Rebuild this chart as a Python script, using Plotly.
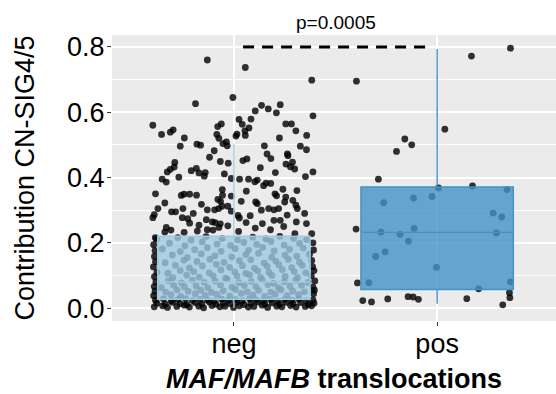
import plotly.graph_objects as go

# ---------------- data ----------------
categories = ["neg", "pos"]
cat_pos = [1, 2]

# box statistics per group: lower whisker, Q1, median, Q3, upper whisker
box_lower = [0.001, 0.013]
box_q1 = [0.027, 0.057]
box_median = [0.080, 0.232]
box_q3 = [0.220, 0.371]
box_upper = [0.504, 0.794]

# jittered observations, "neg" group (contribution values and horizontal jitter)
neg_contrib = [
    0.760, 0.737, 0.698, 0.645, 0.626, 0.589, 0.621, 0.604, 0.610, 0.598,
    0.623, 0.560, 0.532, 0.539, 0.546, 0.521, 0.496, 0.556, 0.564, 0.532,
    0.520, 0.504, 0.509, 0.497, 0.482, 0.462, 0.449, 0.444, 0.578, 0.563,
    0.579, 0.543, 0.552, 0.533, 0.527, 0.529, 0.564, 0.564, 0.543, 0.529,
    0.521, 0.496, 0.485, 0.497, 0.472, 0.472, 0.467, 0.458, 0.457, 0.452,
    0.441, 0.447, 0.433, 0.426, 0.430, 0.415, 0.403, 0.417, 0.446, 0.432,
    0.425, 0.417, 0.401, 0.395, 0.421, 0.428, 0.414, 0.415, 0.404, 0.411,
    0.397, 0.395, 0.395, 0.502, 0.499, 0.386, 0.350, 0.345, 0.349, 0.349,
    0.346, 0.363, 0.346, 0.387, 0.392, 0.375, 0.383, 0.382, 0.350, 0.344,
    0.364, 0.340, 0.343, 0.358, 0.360, 0.305, 0.286, 0.277, 0.295, 0.295,
    0.305, 0.277, 0.274, 0.260, 0.247, 0.233, 0.239, 0.254, 0.301, 0.301,
    0.305, 0.271, 0.264, 0.262, 0.247, 0.258, 0.240, 0.239, 0.327, 0.333,
    0.216, 0.312, 0.312, 0.297, 0.327, 0.284, 0.276, 0.325, 0.320, 0.300,
    0.305, 0.301, 0.305, 0.325, 0.315, 0.305, 0.269, 0.269, 0.245, 0.259,
    0.264, 0.290, 0.252, 0.235, 0.259, 0.228, 0.290, 0.318, 0.283, 0.262,
    0.330, 0.285, 0.240, 0.232, 0.228, 0.322, 0.250, 0.236,
    # dense part
    0.004, 0.007, 0.002, 0.005, 0.009, 0.003, 0.006, 0.001, 0.008, 0.004,
    0.006, 0.002, 0.007, 0.003, 0.005, 0.009, 0.002, 0.006, 0.004, 0.008,
    0.003, 0.005, 0.007,
    0.015, 0.012, 0.018, 0.014, 0.011, 0.017, 0.013, 0.019, 0.012, 0.016,
    0.014, 0.018, 0.011, 0.015, 0.019, 0.013, 0.016, 0.012, 0.018, 0.014,
    0.017, 0.011, 0.015,
    0.024, 0.028, 0.022, 0.026, 0.029, 0.023, 0.027, 0.025, 0.021, 0.028,
    0.024, 0.026, 0.022, 0.029, 0.025, 0.023, 0.027, 0.021, 0.026, 0.024,
    0.028, 0.022, 0.025,
    0.038, 0.041, 0.036, 0.044, 0.039, 0.042, 0.037, 0.045, 0.040, 0.036,
    0.043, 0.038, 0.041, 0.044,
    0.052, 0.049, 0.056, 0.051, 0.055, 0.048, 0.053, 0.057, 0.050, 0.054,
    0.049, 0.056, 0.052, 0.050, 0.055,
    0.066, 0.063, 0.070, 0.065, 0.068, 0.062, 0.071, 0.064, 0.069, 0.066,
    0.072, 0.063, 0.067, 0.070, 0.064,
    0.080, 0.084, 0.077, 0.086, 0.079, 0.083, 0.088, 0.078, 0.082, 0.087,
    0.076, 0.081, 0.085, 0.079, 0.083,
    0.096, 0.093, 0.101, 0.095, 0.099, 0.092, 0.098, 0.102, 0.094, 0.100,
    0.097, 0.093, 0.099,
    0.110, 0.107, 0.115, 0.112, 0.108, 0.117, 0.111, 0.106, 0.114, 0.109,
    0.118, 0.112, 0.108, 0.115,
    0.126, 0.131, 0.123, 0.129, 0.134, 0.125, 0.130, 0.122, 0.128, 0.133,
    0.124, 0.131, 0.127,
    0.142, 0.139, 0.147, 0.143, 0.150, 0.140, 0.145, 0.148, 0.138, 0.144,
    0.149, 0.141, 0.146,
    0.158, 0.163, 0.155, 0.166, 0.160, 0.157, 0.164, 0.168, 0.156, 0.162,
    0.159, 0.165,
    0.176, 0.181, 0.173, 0.179, 0.185, 0.174, 0.182, 0.177, 0.186, 0.175,
    0.180, 0.184, 0.178,
    0.194, 0.199, 0.191, 0.203, 0.196, 0.192, 0.201, 0.195, 0.204, 0.193,
    0.198, 0.200,
    0.211, 0.216, 0.208, 0.219, 0.213, 0.209, 0.217, 0.212, 0.220, 0.214,
    0.210,
]
neg_jitter = [
    -0.131, 0.056, 0.383, -0.005, -0.189, 0.389, 0.136, 0.105, 0.169, 0.209,
    0.228, -0.399, -0.356, -0.313, -0.299, -0.244, -0.264, -0.080, -0.062, -0.084,
    -0.074, -0.054, -0.037, -0.033, -0.097, -0.120, -0.067, -0.028, 0.025, 0.041,
    0.084, 0.054, 0.074, 0.015, 0.010, 0.056, 0.255, 0.283, 0.305, 0.358,
    0.224, 0.327, 0.357, 0.150, 0.163, 0.263, 0.266, 0.182, 0.064, 0.044,
    0.256, 0.288, 0.278, 0.299, 0.130, 0.204, 0.352, 0.389, -0.291, -0.294,
    -0.313, -0.328, -0.271, -0.353, -0.210, -0.185, -0.172, -0.141, -0.146, -0.047,
    -0.013, 0.028, 0.072, -0.182, -0.164, -0.333, -0.386, -0.259, -0.246, -0.218,
    -0.184, -0.057, -0.056, 0.103, 0.115, 0.146, 0.158, 0.181, 0.202, 0.210,
    0.241, 0.255, -0.013, 0.061, 0.310, -0.374, -0.392, -0.399, -0.307, -0.287,
    -0.251, -0.254, -0.227, -0.218, -0.333, -0.340, -0.310, -0.172, -0.131, -0.095,
    -0.075, -0.136, -0.106, -0.092, -0.074, -0.067, -0.131, -0.103, -0.066, -0.079,
    -0.387, -0.059, -0.030, -0.013, 0.036, 0.020, 0.027, 0.107, 0.115, 0.135,
    0.171, 0.197, 0.220, 0.250, 0.305, 0.312, 0.197, 0.228, 0.105, 0.140,
    0.307, 0.348, -0.030, 0.023, 0.357, 0.383, -0.200, -0.160, 0.080, 0.060,
    0.290, 0.262, 0.180, -0.245, 0.300, -0.340, 0.245, -0.180,
    # dense part
    -0.392, -0.351, -0.327, -0.281, -0.244, -0.219, -0.173, -0.149, -0.108, -0.069,
    -0.044, -0.002, 0.027, 0.071, 0.098, 0.139, 0.166, 0.211, 0.236, 0.279,
    0.306, 0.351, 0.382,
    -0.379, -0.338, -0.302, -0.265, -0.232, -0.191, -0.158, -0.121, -0.088, -0.052,
    -0.019, 0.014, 0.049, 0.083, 0.118, 0.152, 0.188, 0.224, 0.257, 0.291,
    0.328, 0.366, 0.394,
    -0.386, -0.347, -0.309, -0.276, -0.238, -0.204, -0.166, -0.131, -0.097, -0.061,
    -0.027, 0.008, 0.041, 0.077, 0.109, 0.146, 0.179, 0.215, 0.249, 0.285,
    0.319, 0.357, 0.389,
    -0.395, -0.310, -0.262, -0.190, -0.141, -0.083, -0.020, 0.036, 0.094, 0.152,
    0.203, 0.261, 0.318, 0.392,
    -0.388, -0.336, -0.280, -0.225, -0.163, -0.110, -0.052, 0.007, 0.066, 0.122,
    0.181, 0.232, 0.289, 0.347, 0.396,
    -0.392, -0.357, -0.297, -0.243, -0.186, -0.128, -0.066, -0.009, 0.051, 0.108,
    0.167, 0.219, 0.276, 0.333, 0.389,
    -0.384, -0.322, -0.258, -0.204, -0.146, -0.093, -0.033, 0.024, 0.085, 0.139,
    0.196, 0.248, 0.305, 0.364, 0.398,
    -0.391, -0.301, -0.232, -0.171, -0.102, -0.041, 0.015, 0.078, 0.131, 0.187,
    0.252, 0.313, 0.381,
    -0.379, -0.325, -0.264, -0.198, -0.122, -0.064, 0.004, 0.059, 0.117, 0.173,
    0.238, 0.297, 0.353, 0.394,
    -0.396, -0.288, -0.219, -0.155, -0.087, -0.021, 0.042, 0.101, 0.164, 0.221,
    0.284, 0.336, 0.387,
    -0.386, -0.339, -0.246, -0.182, -0.118, -0.049, 0.027, 0.083, 0.149, 0.206,
    0.268, 0.322, 0.383,
    -0.391, -0.303, -0.229, -0.161, -0.094, -0.011, 0.058, 0.121, 0.186, 0.252,
    0.309, 0.372,
    -0.388, -0.352, -0.264, -0.193, -0.131, -0.063, 0.006, 0.072, 0.141, 0.198,
    0.274, 0.341, 0.392,
    -0.395, -0.317, -0.241, -0.156, -0.083, -0.016, 0.049, 0.112, 0.183, 0.247,
    0.323, 0.389,
    -0.381, -0.276, -0.211, -0.137, -0.058, 0.018, 0.093, 0.158, 0.226, 0.294,
    0.358,
]

# jittered observations, "pos" group
pos_contrib = [
    0.796, 0.772, 0.695, 0.548, 0.518, 0.500, 0.480, 0.395, 0.374, 0.368,
    0.323, 0.337, 0.342, 0.291, 0.279, 0.230, 0.363, 0.242, 0.233, 0.226,
    0.244, 0.205, 0.172, 0.158, 0.125, 0.077, 0.078, 0.059, 0.080, 0.047,
    0.032, 0.010, 0.023, 0.019, 0.028, 0.035, 0.034, 0.027, 0.029,
]
pos_jitter = [
    0.361, 0.169, -0.397, 0.038, -0.159, -0.125, -0.200, -0.289, 0.174, 0.007,
    -0.263, -0.116, -0.025, 0.276, 0.318, 0.292, 0.344, -0.399, -0.276, -0.182,
    -0.113, -0.141, -0.256, -0.302, -0.003, -0.392, -0.336, 0.204, 0.361, 0.356,
    0.358, 0.323, -0.366, -0.323, -0.243, -0.143, -0.118, -0.092, 0.146,
]

assert len(neg_contrib) == len(neg_jitter)
assert len(pos_contrib) == len(pos_jitter)

p_label = "p=0.0005"
bracket_x = [1.045, 1.98]
bracket_y = [0.8, 0.8]

y_ticks = [0.0, 0.2, 0.4, 0.6, 0.8]
y_ticktext = ["0.0", "0.2", "0.4", "0.6", "0.8"]

# ---------------- styling ----------------
FONT = "Liberation Sans, Arial, Helvetica, sans-serif"
fills = ["rgba(158,202,225,0.8)", "rgba(66,146,198,0.8)"]
lines = ["#9ecae1", "#4292c6"]
XR = [0.4, 2.585]
YR = [-0.0395, 0.8365]

fig = go.Figure()

# points (bottom layer)
pts_x = [cat_pos[0] + j for j in neg_jitter] + [cat_pos[1] + j for j in pos_jitter]
pts_y = neg_contrib + pos_contrib
fig.add_trace(go.Scatter(
    x=pts_x, y=pts_y, mode="markers",
    marker=dict(size=6.8, color="rgba(0,0,0,0.8)", line=dict(width=0)),
    showlegend=False, hoverinfo="skip", xaxis="x", yaxis="y"))

# boxes drawn on overlaid axes so they sit above the points
for i in range(2):
    fig.add_trace(go.Box(
        x=[cat_pos[i]], q1=[box_q1[i]], median=[box_median[i]], q3=[box_q3[i]],
        lowerfence=[box_lower[i]], upperfence=[box_upper[i]],
        width=0.75, whiskerwidth=0, fillcolor=fills[i],
        line=dict(color=lines[i], width=1.4), boxpoints=False,
        showlegend=False, name=categories[i], xaxis="x2", yaxis="y2"))

# dashed comparison bracket
fig.add_trace(go.Scatter(
    x=bracket_x, y=bracket_y, mode="lines",
    line=dict(color="black", width=3, dash="11px,8px"),
    showlegend=False, hoverinfo="skip", xaxis="x2", yaxis="y2"))

fig.add_annotation(
    text=p_label, x=1.5, xref="x", y=1, yref="paper",
    yanchor="middle", yshift=13, showarrow=False,
    font=dict(family=FONT, size=19, color="black"))

fig.update_layout(
    width=556, height=394,
    margin=dict(l=112, r=0, t=35, b=73),
    paper_bgcolor="white", plot_bgcolor="#EBEBEB",
    font=dict(family=FONT, color="black"),
    showlegend=False,
    xaxis=dict(
        range=XR, tickmode="array", tickvals=cat_pos, ticktext=categories,
        showgrid=True, gridcolor="white", gridwidth=1.6, zeroline=False,
        showline=False, ticks="outside", ticklen=4, tickwidth=1.1,
        tickcolor="#333333", tickfont=dict(size=27, color="black"),
        ticklabelstandoff=-5,
        title=dict(text="<b><i>MAF/MAFB</i> translocations</b>",
                   font=dict(size=27, color="black"), standoff=15)),
    yaxis=dict(
        range=YR, tickmode="array", tickvals=y_ticks, ticktext=y_ticktext,
        showgrid=True, gridcolor="white", gridwidth=1.6, zeroline=False,
        showline=False, ticks="outside", ticklen=4, tickwidth=1.1,
        tickcolor="#333333", tickfont=dict(size=27, color="black"),
        ticklabelstandoff=-3,
        minor=dict(tickmode="array", tickvals=[0.1, 0.3, 0.5, 0.7],
                   showgrid=True, gridcolor="white", gridwidth=0.8, ticks=""),
        title=dict(text="Contribution CN-SIG4/5",
                   font=dict(size=27, color="black"), standoff=24)),
    xaxis2=dict(range=XR, overlaying="x", visible=False),
    yaxis2=dict(range=YR, overlaying="y", visible=False),
)

fig.write_html("out.html")
